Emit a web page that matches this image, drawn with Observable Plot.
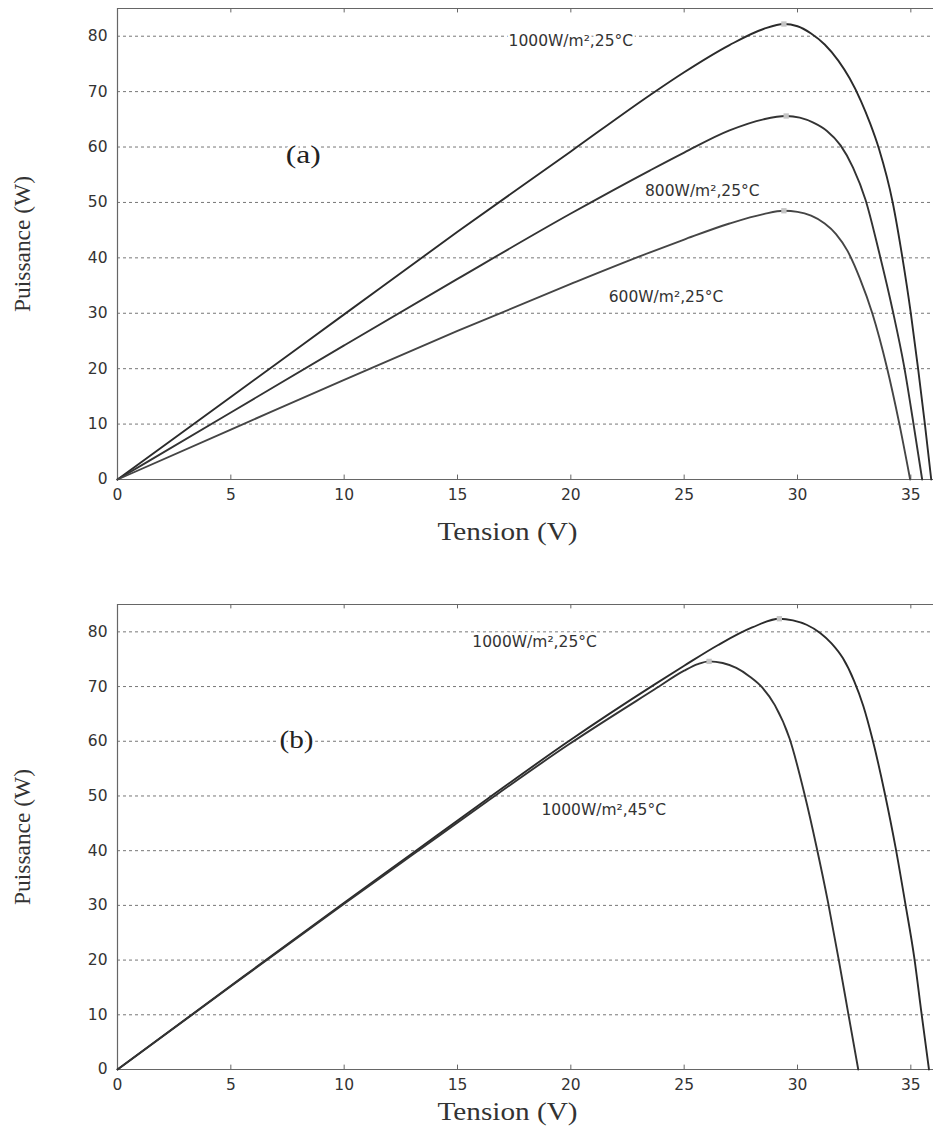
<!DOCTYPE html>
<html>
<head>
<meta charset="utf-8">
<script src="https://cdn.jsdelivr.net/npm/d3@7"></script>
<script src="https://cdn.jsdelivr.net/npm/@observablehq/plot@0.6"></script>
<style>
  html, body { margin: 0; padding: 0; background: white; }
  #chart svg { display: block; }
</style>
</head>
<body>
<div id="chart"></div>
<script>
// ---- Data ----
const xTicks = [0, 5, 10, 15, 20, 25, 30, 35];
const yTicks = [0, 10, 20, 30, 40, 50, 60, 70, 80];
const gridLevels = [10, 20, 30, 40, 50, 60, 70, 80];

// Panel (a): irradiance variation at 25°C
const V_a1000 = [0, 5, 10, 15, 20, 23.5, 25, 27, 28.5, 29.4, 30.0, 30.6, 31.2, 31.8, 32.3, 32.8, 33.2, 33.6, 34.2, 34.63, 35.0, 35.32, 35.62, 35.9];
const P_a1000 = [0, 14.9, 29.8, 44.7, 59.2, 69.4, 73.5, 78.4, 81.3, 82.2, 81.8, 80.5, 78.5, 75.6, 72.4, 68.3, 64.3, 59.6, 50, 40, 30, 20, 10, 0];
const V_a800 = [0, 5, 10, 15, 20, 23.5, 25, 27, 28.5, 29.5, 30.1, 30.7, 31.3, 31.9, 32.45, 33.0, 33.6, 34.2, 34.7, 35.1, 35.5];
const P_a800 = [0, 12.1, 24.2, 36.2, 48.0, 55.8, 59.0, 63.0, 65.0, 65.6, 65.3, 64.4, 62.9, 60.3, 56.3, 50.5, 41, 30.5, 20.5, 10.5, 0];
const V_a600 = [0, 5, 10, 15, 20, 23.5, 25, 27, 28.5, 29.4, 30.0, 30.6, 31.2, 31.7, 32.2, 32.75, 33.3, 33.94, 34.48, 34.97];
const P_a600 = [0, 9, 18, 26.8, 35.3, 41.0, 43.3, 46.2, 47.9, 48.5, 48.3, 47.6, 46.2, 44.3, 41.3, 36.3, 30.0, 20.3, 10.3, 0];
const peaksA = [
  {v: 29.4, p: 82.2},
  {v: 29.5, p: 65.6},
  {v: 29.4, p: 48.5}
];
const labelsA = [
  {v: 20.0, p: 79.2, text: "1000W/m²,25°C"},
  {v: 25.8, p: 52.1, text: "800W/m²,25°C"},
  {v: 24.2, p: 32.9, text: "600W/m²,25°C"}
];
const panelA = {v: 8.2, p: 58.6, text: "(a)"};

// Panel (b): temperature variation at 1000 W/m²
const V_b25 = [0, 5, 10, 13, 16.3, 19.9, 23.7, 25, 26.5, 28, 29.2, 29.8, 30.4, 31.0, 31.5, 32.0, 32.5, 32.9, 33.3, 33.85, 34.33, 34.75, 35.15, 35.47, 35.8];
const P_b25 = [0, 15.3, 30.5, 39.5, 49.4, 60, 70.4, 73.8, 77.6, 80.8, 82.4, 82.1, 81.3, 79.8, 77.9, 75.2, 71.0, 66.5, 60.5, 50.5, 40.5, 30.5, 20.5, 10.3, 0];
const V_b45 = [0, 5, 10, 13, 16.3, 19.9, 23.7, 25, 25.6, 26.1, 26.7, 27.3, 27.9, 28.45, 29.0, 29.65, 30.3, 30.85, 31.35, 31.8, 32.25, 32.68];
const P_b45 = [0, 15.2, 30.3, 39.2, 49.0, 59.4, 69.5, 72.9, 74.1, 74.6, 74.3, 73.4, 71.8, 69.8, 66.6, 60.5, 50.5, 40.5, 30.5, 20.5, 10, 0];
const peaksB = [
  {v: 29.2, p: 82.4},
  {v: 26.1, p: 74.6}
];
const labelsB = [
  {v: 18.4, p: 78.2, text: "1000W/m²,25°C"},
  {v: 21.45, p: 47.4, text: "1000W/m²,45°C"}
];
const panelB = {v: 7.9, p: 60.2, text: "(b)"};

// ---- helpers ----
const toRows = (vs, ps, name) => vs.map((v, i) => ({v, p: ps[i], series: name}));

const SANS = "'DejaVu Sans', 'Liberation Sans', Arial, sans-serif";
const SERIF = "'Liberation Serif', 'Times New Roman', serif";

function panel({series, peaks, labels, tag, height, marginTop, marginBottom, xLabelDy}) {
  const curveMarks = series.map(s => Plot.line(s.rows, {
    x: "v", y: "p", curve: "monotone-x",
    stroke: s.color, strokeWidth: 1.9
  }));
  const svg = Plot.plot({
    width: 933,
    height,
    marginLeft: 117,
    marginRight: 0,
    marginTop,
    marginBottom,
    style: {fontFamily: SANS, fontSize: "15px", color: "#222", background: "white", overflow: "visible"},
    x: {domain: [0, 36]},
    y: {domain: [0, 85]},
    marks: [
      Plot.ruleY(gridLevels, {stroke: "#777", strokeWidth: 1, strokeDasharray: "3,3"}),
      Plot.ruleY([0, 85], {stroke: "#666", strokeWidth: 1.2}),
      Plot.ruleX([0], {stroke: "#666", strokeWidth: 1.2}),
      Plot.ruleX(xTicks.slice(1), {y1: 85, y2: 84.2, stroke: "#666"}),
      Plot.ruleX(xTicks.slice(1), {y1: 0, y2: 0.8, stroke: "#666"}),
      Plot.axisX({ticks: xTicks, tickSize: 0, tickPadding: 9, label: null, fontSize: 15.5, fill: "#333"}),
      Plot.axisY({ticks: yTicks, tickSize: 0, tickPadding: 10, label: null, fontSize: 15.5, fill: "#333"}),
      ...curveMarks,
      Plot.dot(peaks, {x: "v", y: "p", symbol: "square", r: 3, fill: "#c4c4c4", stroke: "none"}),
      Plot.text(labels, {x: "v", y: "p", text: "text", fontFamily: SANS, fontSize: 15.5,
        fill: "#333", stroke: "white", strokeWidth: 5}),
      Plot.text([tag], {x: "v", y: "p", text: "text", fontFamily: SERIF, fontSize: 26,
        fill: "#222", stroke: "white", strokeWidth: 5}),
      Plot.text(["Tension (V)"], {frameAnchor: "bottom", dx: -18, dy: xLabelDy, fontFamily: SERIF, fontSize: 25, fill: "#333"}),
      Plot.text(["Puissance (W)"], {frameAnchor: "left", dx: -95, rotate: -90, textAnchor: "middle", fontFamily: SERIF, fontSize: 24, fill: "#333"})
    ]
  });
  // stretch the serif titles horizontally like the scanned figure
  const stretch = {"Tension (V)": 140, "Puissance (W)": 136, "(a)": 35, "(b)": 34};
  d3.select(svg).selectAll("text").each(function() {
    const t = this.textContent;
    if (stretch[t] && this.childElementCount === 0) {
      this.setAttribute("textLength", stretch[t]);
      this.setAttribute("lengthAdjust", "spacingAndGlyphs");
    }
  });
  return svg;
}

const chartA = panel({
  series: [
    {rows: toRows(V_a1000, P_a1000, "1000"), color: "#2b2b2b"},
    {rows: toRows(V_a800, P_a800, "800"), color: "#333"},
    {rows: toRows(V_a600, P_a600, "600"), color: "#454545"}
  ],
  peaks: peaksA, labels: labelsA, tag: panelA,
  height: 560, marginTop: 8, marginBottom: 81, xLabelDy: 60
});

const chartB = panel({
  series: [
    {rows: toRows(V_b25, P_b25, "25"), color: "#2b2b2b"},
    {rows: toRows(V_b45, P_b45, "45"), color: "#333"}
  ],
  peaks: peaksB, labels: labelsB, tag: panelB,
  height: 573, marginTop: 44, marginBottom: 64, xLabelDy: 50
});

const root = document.getElementById("chart");
root.append(chartA, chartB);
</script>
</body>
</html>
